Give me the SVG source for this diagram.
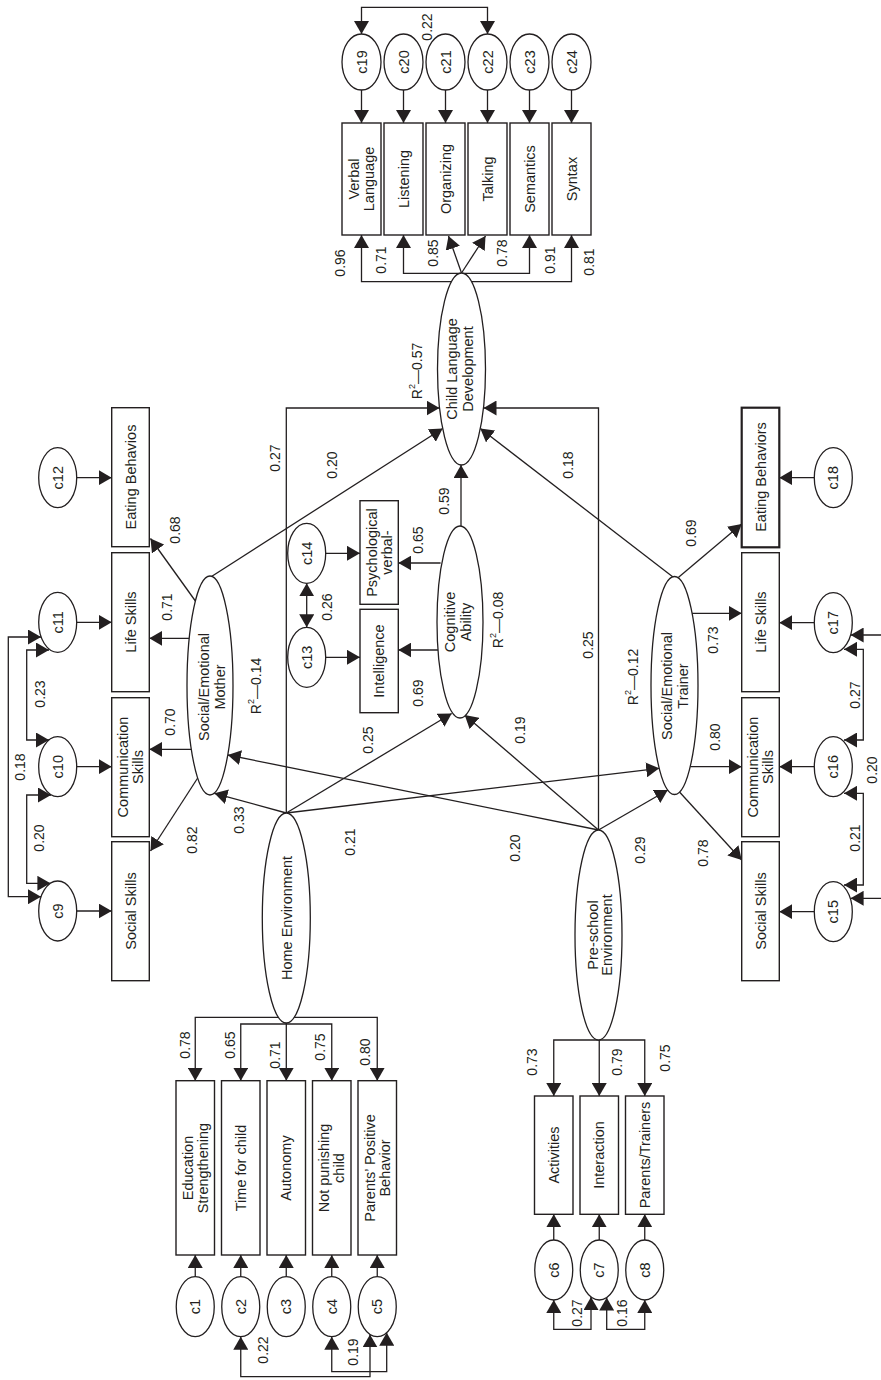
<svg xmlns="http://www.w3.org/2000/svg" width="881" height="1380" viewBox="0 0 881 1380">
<defs>
<style>
.box{fill:#fff;stroke:#231f20;stroke-width:1.4}
.ell{fill:#fff;stroke:#231f20;stroke-width:1.3}
.ln{fill:none;stroke:#231f20;stroke-width:1.3;marker-end:url(#ah)}
.dbl{fill:none;stroke:#231f20;stroke-width:1.3;marker-start:url(#ah);marker-end:url(#ah)}
.pl{fill:none;stroke:#231f20;stroke-width:1.3}
text{font-family:"Liberation Sans",Arial,sans-serif;font-size:14.5px;fill:#231f20;text-anchor:middle;dominant-baseline:central}
.num{font-size:14px}
</style>
<marker id="ah" viewBox="0 0 13 15" refX="13" refY="7.5" markerWidth="13" markerHeight="15" markerUnits="userSpaceOnUse" orient="auto-start-reverse">
<path d="M0,0 L13,7.5 L0,15 z" fill="#231f20"/>
</marker>
</defs>
<rect width="881" height="1380" fill="#fff"/>

<g id="connectors">
<!-- error terms to language indicators -->
<path class="ln" d="M361.5,90 V123"/>
<path class="ln" d="M403.5,90 V123"/>
<path class="ln" d="M445.5,90 V123"/>
<path class="ln" d="M487.5,90 V123"/>
<path class="ln" d="M529.5,90 V123"/>
<path class="ln" d="M571.5,90 V123"/>
<path class="dbl" d="M361.5,34 V7.3 H487.5 V34"/>
<!-- language development loadings -->
<path class="dbl" d="M361.5,235 V281.7 H571.5 V235"/>
<path class="dbl" d="M403.5,235 V273.3 H529.5 V235"/>
<path class="ln" d="M461.5,273 L448.5,236"/>
<path class="ln" d="M461.5,273 L485.5,236"/>
<!-- structural paths into language development -->
<path class="ln" d="M461,526 V465"/>
<path class="ln" d="M286.3,813 V408 H439.5"/>
<path class="ln" d="M598.5,830 V408 H483.5"/>
<path class="ln" d="M211.5,576.5 L442.7,428.5"/>
<path class="ln" d="M673,577 L480.3,428.5"/>
<!-- cognitive ability -->
<path class="ln" d="M440.6,563 H398.3"/>
<path class="ln" d="M438,650 H398.3"/>
<path class="ln" d="M325.7,553.3 H360"/>
<path class="ln" d="M325.7,657.3 H360"/>
<path class="dbl" d="M306.7,583.3 V627.3"/>
<!-- social/emotional (mother) -->
<path class="ln" d="M195.4,601 L150.5,538.5"/>
<path class="ln" d="M189.3,638.3 H149.3"/>
<path class="ln" d="M191.3,749.3 H149.3"/>
<path class="ln" d="M197.7,778 L150.5,851"/>
<path class="ln" d="M76.7,477.7 H111.7"/>
<path class="ln" d="M76.7,622.3 H111.7"/>
<path class="ln" d="M76.7,766.7 H111.7"/>
<path class="ln" d="M76.7,911 H111.7"/>
<path class="dbl" d="M41,637 H8.3 V896.7 H41"/>
<path class="dbl" d="M49,650 H26.7 V740 H49"/>
<path class="dbl" d="M51,795 H26.7 V883.3 H50.4"/>
<!-- social/emotional (trainer) -->
<path class="ln" d="M678.3,577.5 L741.7,524"/>
<path class="ln" d="M692,613.3 H741.7"/>
<path class="ln" d="M690.2,766.7 H741.7"/>
<path class="ln" d="M679.5,792 L741.7,860"/>
<path class="ln" d="M814.3,477.7 H779.3"/>
<path class="ln" d="M814.3,622.7 H779.3"/>
<path class="ln" d="M814.3,766.7 H779.3"/>
<path class="ln" d="M814.3,911.7 H779.3"/>
<path class="dbl" d="M844,649.3 H863.3 V740 H844"/>
<path class="dbl" d="M844,793.3 H863.3 V885 H844"/>
<path class="dbl" d="M850.6,635 H888 V898.3 H850.6"/>
<!-- home environment paths -->
<path class="ln" d="M286.3,813 L214.4,793.3"/>
<path class="ln" d="M286.3,813 L451.7,713.5"/>
<path class="ln" d="M286.3,813 L659.2,768.3"/>
<!-- pre-school environment paths -->
<path class="ln" d="M598.5,830 L227.8,755"/>
<path class="ln" d="M598.5,830 L464.7,715"/>
<path class="ln" d="M598.5,830 L667.8,790"/>
<!-- home environment indicators -->
<path class="dbl" d="M195.25,1080.7 V1017.3 H377.25 V1080.7"/>
<path class="dbl" d="M240.75,1080.7 V1024 H331.75 V1080.7"/>
<path class="ln" d="M286.3,1023 V1080.7"/>
<path class="ln" d="M195.25,1276.7 V1255"/>
<path class="ln" d="M240.75,1276.7 V1255"/>
<path class="ln" d="M286.25,1276.7 V1255"/>
<path class="ln" d="M331.75,1276.7 V1255"/>
<path class="ln" d="M377.25,1276.7 V1255"/>
<path class="dbl" d="M240.75,1336.7 V1376.7 H370 V1334.4"/>
<path class="dbl" d="M331.75,1336.7 V1371.7 H386.7 V1332.7"/>
<!-- pre-school environment indicators -->
<path class="dbl" d="M553.75,1096 V1040 H644.75 V1096"/>
<path class="ln" d="M599.25,1040 V1096"/>
<path class="ln" d="M553.75,1240 V1214.3"/>
<path class="ln" d="M599.25,1240 V1214.3"/>
<path class="ln" d="M644.75,1240 V1214.3"/>
<path class="dbl" d="M553.75,1300 V1329.3 H591 V1297"/>
<path class="dbl" d="M606.7,1297.6 V1329.3 H644.75 V1300"/>
</g>

<g id="labels">
<text class="num" transform="translate(427,27) rotate(-90)">0.22</text>
<text class="num" transform="translate(340,263) rotate(-90)">0.96</text>
<text class="num" transform="translate(381,260) rotate(-90)">0.71</text>
<text class="num" transform="translate(432.7,253) rotate(-90)">0.85</text>
<text class="num" transform="translate(502,253) rotate(-90)">0.78</text>
<text class="num" transform="translate(550,260) rotate(-90)">0.91</text>
<text class="num" transform="translate(589,262) rotate(-90)">0.81</text>
<text class="num" transform="translate(443.5,501) rotate(-90)">0.59</text>
<text class="num" transform="translate(275,458) rotate(-90)">0.27</text>
<text class="num" transform="translate(332,465) rotate(-90)">0.20</text>
<text class="num" transform="translate(568,465) rotate(-90)">0.18</text>
<text class="num" transform="translate(588,645) rotate(-90)">0.25</text>
<text class="num" transform="translate(418,540) rotate(-90)">0.65</text>
<text class="num" transform="translate(418,693) rotate(-90)">0.69</text>
<text class="num" transform="translate(327,607) rotate(-90)">0.26</text>
<text class="num" transform="translate(175,530) rotate(-90)">0.68</text>
<text class="num" transform="translate(167,607) rotate(-90)">0.71</text>
<text class="num" transform="translate(170,722) rotate(-90)">0.70</text>
<text class="num" transform="translate(192,840) rotate(-90)">0.82</text>
<text class="num" transform="translate(40,694) rotate(-90)">0.23</text>
<text class="num" transform="translate(20,767) rotate(-90)">0.18</text>
<text class="num" transform="translate(39,838) rotate(-90)">0.20</text>
<text class="num" transform="translate(239,820) rotate(-90)">0.33</text>
<text class="num" transform="translate(368,740) rotate(-90)">0.25</text>
<text class="num" transform="translate(350,842) rotate(-90)">0.21</text>
<text class="num" transform="translate(515,848) rotate(-90)">0.20</text>
<text class="num" transform="translate(520,730) rotate(-90)">0.19</text>
<text class="num" transform="translate(640,850) rotate(-90)">0.29</text>
<text class="num" transform="translate(691,533) rotate(-90)">0.69</text>
<text class="num" transform="translate(713,640) rotate(-90)">0.73</text>
<text class="num" transform="translate(715,737) rotate(-90)">0.80</text>
<text class="num" transform="translate(703,853) rotate(-90)">0.78</text>
<text class="num" transform="translate(855,695) rotate(-90)">0.27</text>
<text class="num" transform="translate(855,838) rotate(-90)">0.21</text>
<text class="num" transform="translate(872,770) rotate(-90)">0.20</text>
<text class="num" transform="translate(185,1045) rotate(-90)">0.78</text>
<text class="num" transform="translate(230,1045) rotate(-90)">0.65</text>
<text class="num" transform="translate(275,1055) rotate(-90)">0.71</text>
<text class="num" transform="translate(320,1047) rotate(-90)">0.75</text>
<text class="num" transform="translate(365,1052) rotate(-90)">0.80</text>
<text class="num" transform="translate(263,1350) rotate(-90)">0.22</text>
<text class="num" transform="translate(353,1352) rotate(-90)">0.19</text>
<text class="num" transform="translate(532,1062) rotate(-90)">0.73</text>
<text class="num" transform="translate(617,1062) rotate(-90)">0.79</text>
<text class="num" transform="translate(665,1058) rotate(-90)">0.75</text>
<text class="num" transform="translate(577,1313) rotate(-90)">0.27</text>
<text class="num" transform="translate(622,1313) rotate(-90)">0.16</text>
<text class="num" transform="translate(417,371) rotate(-90)">R<tspan dy="-5" font-size="9">2</tspan><tspan dy="5">—0.57</tspan></text>
<text class="num" transform="translate(498,620) rotate(-90)">R<tspan dy="-5" font-size="9">2</tspan><tspan dy="5">—0.08</tspan></text>
<text class="num" transform="translate(256,686) rotate(-90)">R<tspan dy="-5" font-size="9">2</tspan><tspan dy="5">—0.14</tspan></text>
<text class="num" transform="translate(633,677) rotate(-90)">R<tspan dy="-5" font-size="9">2</tspan><tspan dy="5">—0.12</tspan></text>
</g>

<!-- language development indicators -->
<g id="c19"><ellipse class="ell" cx="361.5" cy="62" rx="19.5" ry="28"/><text transform="translate(361.5,62) rotate(-90)">c19</text></g>
<g id="c20"><ellipse class="ell" cx="403.5" cy="62" rx="19.5" ry="28"/><text transform="translate(403.5,62) rotate(-90)">c20</text></g>
<g id="c21"><ellipse class="ell" cx="445.5" cy="62" rx="19.5" ry="28"/><text transform="translate(445.5,62) rotate(-90)">c21</text></g>
<g id="c22"><ellipse class="ell" cx="487.5" cy="62" rx="19.5" ry="28"/><text transform="translate(487.5,62) rotate(-90)">c22</text></g>
<g id="c23"><ellipse class="ell" cx="529.5" cy="62" rx="19.5" ry="28"/><text transform="translate(529.5,62) rotate(-90)">c23</text></g>
<g id="c24"><ellipse class="ell" cx="571.5" cy="62" rx="19.5" ry="28"/><text transform="translate(571.5,62) rotate(-90)">c24</text></g>
<g id="verbal-language"><rect class="box" x="342" y="123" width="39" height="112"/><text transform="translate(361.5,179) rotate(-90)"><tspan x="0" y="-7.5">Verbal</tspan><tspan x="0" y="7.5">Language</tspan></text></g>
<g id="listening"><rect class="box" x="384" y="123" width="39" height="112"/><text transform="translate(403.5,179) rotate(-90)">Listening</text></g>
<g id="organizing"><rect class="box" x="426" y="123" width="39" height="112"/><text transform="translate(445.5,179) rotate(-90)">Organizing</text></g>
<g id="talking"><rect class="box" x="468" y="123" width="39" height="112"/><text transform="translate(487.5,179) rotate(-90)">Talking</text></g>
<g id="semantics"><rect class="box" x="510" y="123" width="39" height="112"/><text transform="translate(529.5,179) rotate(-90)">Semantics</text></g>
<g id="syntax"><rect class="box" x="552" y="123" width="39" height="112"/><text transform="translate(571.5,179) rotate(-90)">Syntax</text></g>

<!-- latent variables -->
<g id="child-language"><ellipse class="ell" cx="461.5" cy="369" rx="24" ry="96"/><text transform="translate(460,369) rotate(-90)"><tspan x="0" y="-8">Child Language</tspan><tspan x="0" y="8">Development</tspan></text></g>
<g id="cognitive"><ellipse class="ell" cx="460" cy="622" rx="23" ry="96"/><text transform="translate(458,622) rotate(-90)"><tspan x="0" y="-8">Cognitive</tspan><tspan x="0" y="8">Ability</tspan></text></g>
<g id="se-mother"><ellipse class="ell" cx="210" cy="685.5" rx="23" ry="109.5"/><text transform="translate(211.5,687) rotate(-90)"><tspan x="0" y="-8">Social/Emotional</tspan><tspan x="0" y="8">Mother</tspan></text></g>
<g id="se-trainer"><ellipse class="ell" cx="674.5" cy="685.5" rx="23.5" ry="109"/><text transform="translate(675,686) rotate(-90)"><tspan x="0" y="-8">Social/Emotional</tspan><tspan x="0" y="8">Trainer</tspan></text></g>
<g id="home"><ellipse class="ell" cx="286.3" cy="918" rx="24" ry="105"/><text transform="translate(286.5,918) rotate(-90)">Home Environment</text></g>
<g id="preschool"><ellipse class="ell" cx="598.5" cy="935" rx="23.5" ry="105"/><text transform="translate(600,935) rotate(-90)"><tspan x="0" y="-7">Pre-school</tspan><tspan x="0" y="7">Environment</tspan></text></g>

<!-- cognitive indicators -->
<g id="psych"><rect class="box" x="360" y="500.7" width="38.3" height="103.6"/><text transform="translate(379,552.5) rotate(-90)"><tspan x="0" y="-7.5">Psychological</tspan><tspan x="0" y="7.5">verbal-</tspan></text></g>
<g id="intelligence"><rect class="box" x="360" y="609.3" width="38.3" height="103.4"/><text transform="translate(379,661) rotate(-90)">Intelligence</text></g>
<g id="c14"><ellipse class="ell" cx="306.7" cy="553.3" rx="19" ry="30"/><text transform="translate(306.7,553.3) rotate(-90)">c14</text></g>
<g id="c13"><ellipse class="ell" cx="306.7" cy="657.3" rx="19" ry="30"/><text transform="translate(306.7,657.3) rotate(-90)">c13</text></g>

<!-- mother indicators -->
<g id="m-eating"><rect class="box" x="111.7" y="407.7" width="37.6" height="139"/><text transform="translate(130.5,477) rotate(-90)">Eating Behavios</text></g>
<g id="m-life"><rect class="box" x="111.7" y="552.7" width="37.6" height="139"/><text transform="translate(130.5,622) rotate(-90)">Life Skills</text></g>
<g id="m-comm"><rect class="box" x="111.7" y="697.7" width="37.6" height="139"/><text transform="translate(130.5,767) rotate(-90)"><tspan x="0" y="-7.5">Communication</tspan><tspan x="0" y="7.5">Skills</tspan></text></g>
<g id="m-social"><rect class="box" x="111.7" y="841.7" width="37.6" height="139"/><text transform="translate(130.5,911) rotate(-90)">Social Skills</text></g>
<g id="c12"><ellipse class="ell" cx="57.7" cy="477.7" rx="19" ry="30"/><text transform="translate(57.7,477.7) rotate(-90)">c12</text></g>
<g id="c11"><ellipse class="ell" cx="57.7" cy="622.3" rx="19" ry="30"/><text transform="translate(57.7,622.3) rotate(-90)">c11</text></g>
<g id="c10"><ellipse class="ell" cx="57.7" cy="766.7" rx="19" ry="30"/><text transform="translate(57.7,766.7) rotate(-90)">c10</text></g>
<g id="c9"><ellipse class="ell" cx="57.7" cy="911" rx="19" ry="30"/><text transform="translate(57.7,911) rotate(-90)">c9</text></g>

<!-- trainer indicators -->
<g id="t-eating"><rect class="box" x="741.7" y="407.7" width="37.6" height="139.6" style="stroke-width:2.2"/><text transform="translate(760.5,477) rotate(-90)">Eating Behaviors</text></g>
<g id="t-life"><rect class="box" x="741.7" y="552.7" width="37.6" height="139"/><text transform="translate(760.5,622) rotate(-90)">Life Skills</text></g>
<g id="t-comm"><rect class="box" x="741.7" y="697.7" width="37.6" height="139"/><text transform="translate(760.5,767) rotate(-90)"><tspan x="0" y="-7.5">Communication</tspan><tspan x="0" y="7.5">Skills</tspan></text></g>
<g id="t-social"><rect class="box" x="741.7" y="841.7" width="37.6" height="139"/><text transform="translate(760.5,911) rotate(-90)">Social Skills</text></g>
<g id="c18"><ellipse class="ell" cx="833.3" cy="477.7" rx="19" ry="30"/><text transform="translate(833.3,477.7) rotate(-90)">c18</text></g>
<g id="c17"><ellipse class="ell" cx="833.3" cy="622.7" rx="19" ry="30"/><text transform="translate(833.3,622.7) rotate(-90)">c17</text></g>
<g id="c16"><ellipse class="ell" cx="833.3" cy="766.7" rx="19" ry="30"/><text transform="translate(833.3,766.7) rotate(-90)">c16</text></g>
<g id="c15"><ellipse class="ell" cx="833.3" cy="911.7" rx="19" ry="30"/><text transform="translate(833.3,911.7) rotate(-90)">c15</text></g>

<!-- home environment indicators -->
<g id="education"><rect class="box" x="176" y="1080.7" width="38.5" height="174.3"/><text transform="translate(195.25,1168) rotate(-90)"><tspan x="0" y="-7.5">Education</tspan><tspan x="0" y="7.5">Strengthening</tspan></text></g>
<g id="time"><rect class="box" x="221.5" y="1080.7" width="38.5" height="174.3"/><text transform="translate(240.75,1168) rotate(-90)">Time for child</text></g>
<g id="autonomy"><rect class="box" x="267" y="1080.7" width="38.5" height="174.3"/><text transform="translate(286.25,1168) rotate(-90)">Autonomy</text></g>
<g id="not-punishing"><rect class="box" x="312.5" y="1080.7" width="38.5" height="174.3"/><text transform="translate(331.75,1168) rotate(-90)"><tspan x="0" y="-7.5">Not punishing</tspan><tspan x="0" y="7.5">child</tspan></text></g>
<g id="parents-behavior"><rect class="box" x="358" y="1080.7" width="38.5" height="174.3"/><text transform="translate(377.25,1168) rotate(-90)"><tspan x="0" y="-7.5">Parents’ Positive</tspan><tspan x="0" y="7.5">Behavior</tspan></text></g>
<g id="c1"><ellipse class="ell" cx="195.25" cy="1306.7" rx="19" ry="30"/><text transform="translate(195.25,1306.7) rotate(-90)">c1</text></g>
<g id="c2"><ellipse class="ell" cx="240.75" cy="1306.7" rx="19" ry="30"/><text transform="translate(240.75,1306.7) rotate(-90)">c2</text></g>
<g id="c3"><ellipse class="ell" cx="286.25" cy="1306.7" rx="19" ry="30"/><text transform="translate(286.25,1306.7) rotate(-90)">c3</text></g>
<g id="c4"><ellipse class="ell" cx="331.75" cy="1306.7" rx="19" ry="30"/><text transform="translate(331.75,1306.7) rotate(-90)">c4</text></g>
<g id="c5"><ellipse class="ell" cx="377.25" cy="1306.7" rx="19" ry="30"/><text transform="translate(377.25,1306.7) rotate(-90)">c5</text></g>

<!-- pre-school indicators -->
<g id="activities"><rect class="box" x="534.5" y="1096" width="38.5" height="118.3"/><text transform="translate(553.75,1155) rotate(-90)">Activities</text></g>
<g id="interaction"><rect class="box" x="580" y="1096" width="38.5" height="118.3"/><text transform="translate(599.25,1155) rotate(-90)">Interaction</text></g>
<g id="parents-trainers"><rect class="box" x="625.5" y="1096" width="38.5" height="118.3"/><text transform="translate(644.75,1155) rotate(-90)">Parents/Trainers</text></g>
<g id="c6"><ellipse class="ell" cx="553.75" cy="1270" rx="19" ry="30"/><text transform="translate(553.75,1270) rotate(-90)">c6</text></g>
<g id="c7"><ellipse class="ell" cx="599.25" cy="1270" rx="19" ry="30"/><text transform="translate(599.25,1270) rotate(-90)">c7</text></g>
<g id="c8"><ellipse class="ell" cx="644.75" cy="1270" rx="19" ry="30"/><text transform="translate(644.75,1270) rotate(-90)">c8</text></g>
</svg>
